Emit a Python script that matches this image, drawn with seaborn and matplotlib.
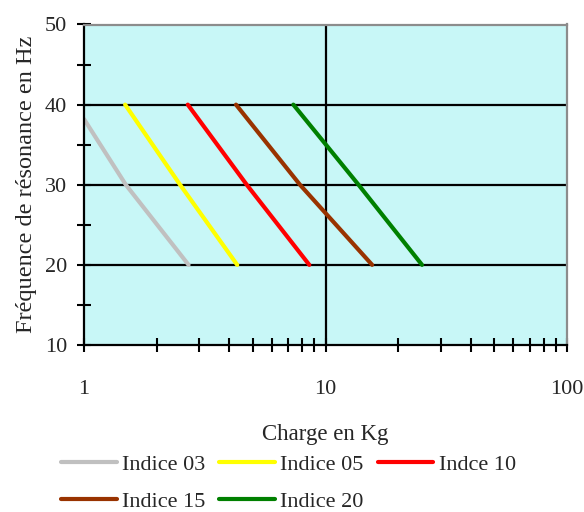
import pandas as pd
import matplotlib
matplotlib.use('Agg')
import matplotlib.pyplot as plt
from matplotlib.ticker import FixedLocator, NullFormatter
import seaborn as sns

# values
labels = ['Indice 03', 'Indice 05', 'Indce 10', 'Indice 15', 'Indice 20']
colors = ['#C0C0C0', '#FFFF00', '#FF0000', '#993300', '#008000']
charge = [
    [1.0, 1.49, 2.71],
    [1.48, 2.50, 4.31],
    [2.69, 4.72, 8.57],
    [4.26, 7.84, 15.6],
    [7.36, 13.7, 25.1],
]
freq = [
    [38.2, 30, 20],
    [40, 30, 20],
    [40, 30, 20],
    [40, 30, 20],
    [40, 30, 20],
]

rows = []
for lab, xs, ys in zip(labels, charge, freq):
    for x, y in zip(xs, ys):
        rows.append({'Indice': lab, 'Charge': x, 'Freq': y})
df = pd.DataFrame(rows)

sns.set_style('white')
plt.rcParams['font.family'] = ['Liberation Serif', 'DejaVu Serif']

fig = plt.figure(figsize=(5.84, 5.12), dpi=100)
ax = fig.add_axes([84 / 584, 1 - 345 / 512, (567 - 84) / 584, (345 - 24.5) / 512])
ax.set_facecolor('#C8F7F7')

sns.lineplot(data=df, x='Charge', y='Freq', hue='Indice', hue_order=labels,
             palette=colors, linewidth=3, sort=False, estimator=None, ax=ax)

ax.set_xscale('log')
ax.set_xlim(1, 100)
ax.set_ylim(10, 50)

ax.xaxis.set_major_locator(FixedLocator([1, 10, 100]))
ax.xaxis.set_major_formatter(plt.FixedFormatter(['1', '10', '100']))
ax.xaxis.set_minor_locator(FixedLocator([i * d for d in (1, 10) for i in range(2, 10)]))
ax.xaxis.set_minor_formatter(NullFormatter())
ax.yaxis.set_major_locator(FixedLocator([10, 20, 30, 40, 50]))
ax.yaxis.set_minor_locator(FixedLocator([15, 25, 35, 45]))

ax.tick_params(which='both', bottom=True, left=True, direction='inout',
               length=10, width=1.5, color='black')
ax.tick_params(axis='x', which='major', pad=20, labelsize=16)
ax.tick_params(axis='y', which='major', pad=7, labelsize=16)

# grid lines
for y in (20, 30, 40):
    ax.axhline(y, color='black', lw=1.6, zorder=1)
ax.axvline(10, color='black', lw=1.6, zorder=1)

for side in ('left', 'bottom'):
    ax.spines[side].set_color('black')
    ax.spines[side].set_linewidth(1.6)
for side in ('top', 'right'):
    ax.spines[side].set_color('#8C8C8C')
    ax.spines[side].set_linewidth(1.6)
    ax.spines[side].set_visible(True)

ax.set_xlabel('Charge en Kg', fontsize=16.5, labelpad=18)
ax.set_ylabel('Fréquence de résonance en Hz', fontsize=17.5, labelpad=6)

handles, labs = ax.get_legend_handles_labels()
ax.get_legend().remove()
order = [0, 3, 1, 4, 2]
leg = fig.legend([handles[i] for i in order], [labs[i] for i in order],
                 ncol=3, loc='upper left', bbox_to_anchor=(61 / 584, 1 - 454 / 512),
                 frameon=False, fontsize=16, handlelength=2.5, handletextpad=0.25,
                 columnspacing=0.62, labelspacing=0.74, borderpad=0, borderaxespad=0)
for line in leg.get_lines():
    line.set_linewidth(3)

fig.savefig('out.png', dpi=100)
